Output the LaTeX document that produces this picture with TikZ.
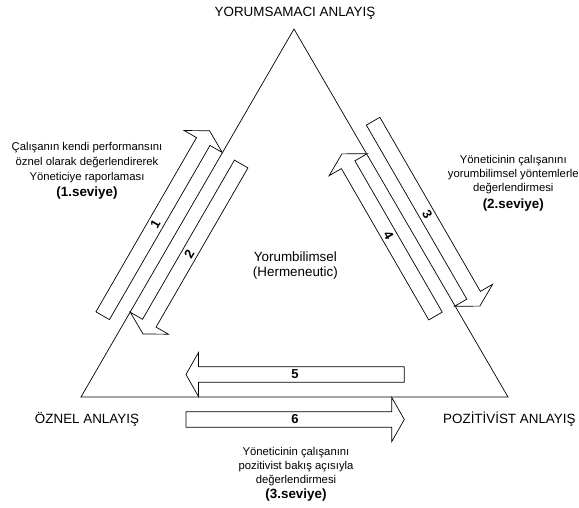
\documentclass[tikz,border=0pt]{standalone}
\usepackage{fontspec}
\setmainfont{Liberation Sans}
\begin{document}
\begin{tikzpicture}[x=1pt,y=-1pt,
  tri/.style={draw=black, line width=0.7pt, line join=miter},
  barrowline/.style={draw=black, fill=white, line width=0.7pt, line join=miter},
  big/.style={font=\fontsize{13.4}{16}\selectfont, inner sep=0pt, anchor=base},
  small/.style={font=\fontsize{11.3}{14}\selectfont, inner sep=0pt, anchor=base},
  lvl/.style={font=\fontsize{13.4}{16}\selectfont\bfseries, inner sep=0pt, anchor=base},
  num/.style={font=\fontsize{13}{15}\selectfont\bfseries, inner sep=0pt},
  pics/barrow/.style={code={
    \draw[barrowline] (0,-7.8) -- ({#1-12.5},-7.8) -- ({#1-12.5},-22) -- (#1,0)
      -- ({#1-12.5},22) -- ({#1-12.5},7.8) -- (0,7.8) -- cycle;
  }}]
\useasboundingbox (0,0) rectangle (579,507);
% triangle
\coordinate (A) at (294,29);
\coordinate (L) at (81,397);
\coordinate (R) at (508,397);
\draw[tri] (A) -- (L) -- (R) -- cycle;
% block arrows
\pic[rotate=60]  at (102.7,315.7) {barrow=213.6};
\pic[rotate=240] at (241.2,164.0) {barrow=196.3};
\pic[rotate=-60] at (373.1,121.2) {barrow=213.5};
\pic[rotate=120] at (435.5,316.0) {barrow=187.2};
\pic[rotate=180] at (404.3,374.5) {barrow=218.3};
\pic[rotate=0]   at (186.0,419.5) {barrow=218.3};
% arrow numbers
\node[num, rotate=60]  (n1) at (155.4,224.6) {1};
\node[num, rotate=60]  (n2) at (189.3,253.8) {2};
\node[num, rotate=-60] (n3) at (427.2,214.3) {3};
\node[num, rotate=-60] (n4) at (388.6,235.4) {4};
\node[num] (n5) at (295,374.5) {5};
\node[num] (n6) at (295,419.5) {6};
% corner labels
\node[big] (top) at (295,16.7) {YORUMSAMACI ANLAYIŞ};
\node[big] (left) at (87,423.5) {ÖZNEL ANLAYIŞ};
\node[big, anchor=base west] (right) at (443,423.5) {POZİTİVİST ANLAYIŞ};
% centre label
\node[big] (c1) at (295.4,261.5) {Yorumbilimsel};
\node[big] (c2) at (295.4,276.5) {(Hermeneutic)};
% level 1
\node[small] (a1) at (87,150.5) {Çalışanın kendi performansını};
\node[small] (a2) at (87,165.5) {öznel olarak değerlendirerek};
\node[small] (a3) at (87,180.5) {Yöneticiye raporlaması};
\node[lvl]   (a4) at (87,196.5) {(1.seviye)};
% level 2
\node[small] (b1) at (513.3,163.3) {Yöneticinin çalışanını};
\node[small] (b2) at (513.3,177.7) {yorumbilimsel yöntemlerle};
\node[small] (b3) at (513.3,191.7) {değerlendirmesi};
\node[lvl]   (b4) at (513.3,208.0) {(2.seviye)};
% level 3
\node[small] (d1) at (296,455.0) {Yöneticinin çalışanını};
\node[small] (d2) at (296,469.5) {pozitivist bakış açısıyla};
\node[small] (d3) at (296,483.5) {değerlendirmesi};
\node[lvl]   (d4) at (296,498.0) {(3.seviye)};
\end{tikzpicture}
\end{document}
